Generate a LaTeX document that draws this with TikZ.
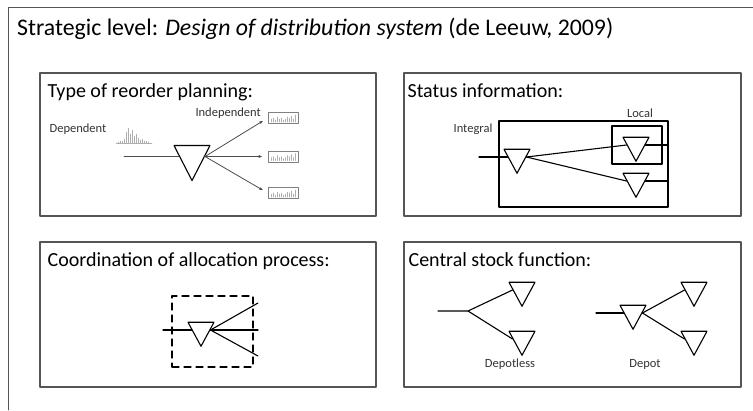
\documentclass[tikz,border=0pt]{standalone}
\usepackage{fontspec}
\setmainfont{Carlito}
\usetikzlibrary{arrows.meta, positioning, shapes.geometric, calc}
\definecolor{frameGrey}{RGB}{85, 85, 85}
\definecolor{histGrey}{RGB}{175, 175, 175}
\tikzset{every path/.style={line cap=round, line join=round}}

\begin{document}
\begin{tikzpicture}[
    x=1pt, y=-1pt,
    >={Latex[length=4pt, width=3pt]},
    panel/.style={
        draw=frameGrey,
        line width=1.2pt,
        minimum width=336pt,
        minimum height=143pt,
        inner sep=0pt
    },
    heading/.style={font=\fontsize{20}{24}\selectfont, anchor=base west, inner sep=0pt},
    smalltext/.style={font=\fontsize{12.5}{15}\selectfont, text=black!80, inner sep=0pt},
    stock/.style={
        draw,
        fill=white,
        line width=1.1pt,
        isosceles triangle,
        isosceles triangle stretches,
        shape border rotate=270,
        minimum width=26pt,
        minimum height=24pt,
        inner sep=0pt
    },
    bigstock/.style={stock, minimum width=36pt, minimum height=35pt},
    flow/.style={line width=1.1pt},
    demand/.style={draw=black!70, line width=0.8pt},
    retailer/.style={
        draw=black!50,
        line width=0.6pt,
        minimum width=30pt,
        minimum height=11pt,
        inner sep=0pt,
        path picture={
            \foreach \bx/\bh in {3/3, 5/4, 7/2, 9/5, 11/3, 13/4, 15/2, 17/3, 19/5, 21/4, 23/6, 25/3, 27/7}
                \draw[histGrey, line width=0.5pt]
                    ([xshift=\bx pt, yshift=1.5pt]path picture bounding box.south west) -- ++(0pt, \bh pt);
        }
    }
]
\useasboundingbox (0,0) rectangle (753,410);

% outer frame, cut off at the right and bottom
\draw[frameGrey, line width=0.8pt] (753,7) -| (8,410);

\node[anchor=base west, inner sep=0pt, font=\fontsize{23.8}{28}\selectfont] (title) at (17,35)
{Strategic level: \textit{Design of distribution system} (de Leeuw, 2009)};

% the four panels
\node[panel] (reorder) at (208,144.5) {};
\node[panel, minimum width=337pt] (status) at (572.5,144.5) {};
\node[panel, minimum height=145pt] (alloc) at (208,314.5) {};
\node[panel, minimum width=337pt, minimum height=145pt] (central) at (572.5,314.5) {};

\node[heading] at ([xshift=8pt, yshift=-25pt]reorder.north west) {Type of reorder planning:};
\node[heading] at ([xshift=4pt, yshift=-25pt]status.north west) {Status information:};
\node[heading] at ([xshift=8pt, yshift=-25pt]alloc.north west) {Coordination of allocation process:};
\node[heading] at ([xshift=5pt, yshift=-25pt]central.north west) {Central stock function:};

% -- type of reorder planning
\node[smalltext] (deplabel) at (78,129) {Dependent};
\coordinate (histo) at (116,143);
\draw[histGrey, line width=0.5pt] (histo) -- ++(36pt,0pt);
\foreach \bx/\bh in {2/1, 4/2, 6/2, 8/4, 10/11, 12/15, 14/9, 16/13, 18/7, 20/9, 22/5, 24/3, 26/4, 28/2, 30/2, 32/1}
    \draw[histGrey, line width=0.5pt] ([xshift=\bx pt]histo) -- ++(0pt, \bh pt);

\coordinate (depin) at (124,156.5);
\node[bigstock] (reorderdc) at (192,156.5) {};
\draw[demand, line width=1pt] (depin) -- (reorderdc.west);

\node[retailer] (shopA) at (283,118) {};
\node[retailer] (shopB) at (283,156.5) {};
\node[retailer] (shopC) at (283,193) {};
\foreach \shop in {shopA, shopB, shopC}
    \draw[demand, ->, shorten >=5pt] (reorderdc.east) -- (\shop.west);
\node[smalltext, anchor=east] (indeplabel) at (261,113) {Independent};

% -- status information
\node[draw, line width=1.1pt, minimum width=169pt, minimum height=86pt] (integral) at (583.5,164) {};
\node[draw, line width=1.1pt, minimum width=50pt, minimum height=38pt] (local) at (637,145) {};
\node[smalltext] at (640,113) {Local};
\node[smalltext] at (473,129) {Integral};

\coordinate (statusin) at (479,157);
\node[stock] (hub) at (517,157) {};
\node[stock] (siteA) at (636,145) {};
\node[stock] (siteB) at (636,181) {};
\draw[flow] (statusin) -- (hub.west);
\draw[flow] (hub.east) -- (siteA.west);
\draw[flow] (hub.east) -- (siteB.west);
\draw[flow] (siteA.east) -- (siteA.east -| integral.east);
\draw[flow] (siteB.east) -- (siteB.east -| integral.east);

% -- coordination of allocation process
\node[draw, dashed, dash pattern=on 7pt off 5pt, line width=1.1pt, minimum width=81pt, minimum height=71pt] (scope) at (212.5,331.5) {};
\coordinate (allocin) at (163,330);
\coordinate (allocA) at (258,303);
\coordinate (allocB) at (258,330);
\coordinate (allocC) at (258,356);
\node[stock] (allocdc) at (201,330) {};
\draw[flow] (allocin) -- (allocdc.west);
\foreach \out in {allocA, allocB, allocC}
    \draw[flow] (allocdc.east) -- (\out);

% -- central stock function
\coordinate (lessin) at (438,311);
\coordinate (split) at (468,311);
\node[stock] (lessA) at (522,290) {};
\node[stock] (lessB) at (522,339) {};
\draw[flow] (lessin) -- (split) -- (lessA.west);
\draw[flow] (split) -- (lessB.west);
\node[smalltext] at (510,364) {Depotless};

\coordinate (depotin) at (596,313);
\node[stock] (depot) at (633,313) {};
\node[stock] (depotA) at (694,290) {};
\node[stock] (depotB) at (694,339) {};
\draw[flow] (depotin) -- (depot.west);
\draw[flow] (depot.east) -- (depotA.west);
\draw[flow] (depot.east) -- (depotB.west);
\node[smalltext] at (645,364) {Depot};

\end{tikzpicture}
\end{document}
